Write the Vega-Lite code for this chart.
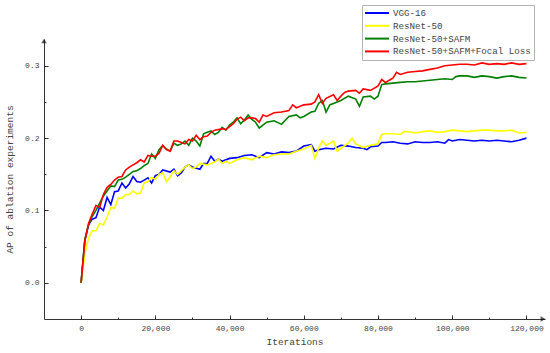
{
  "$schema": "https://vega.github.io/schema/vega-lite/v6.json",
  "width": 501,
  "height": 280,
  "autosize": {"type": "none"},
  "padding": {"left": 44, "top": 39, "right": 5, "bottom": 34},
  "background": "white",
  "config": {"view": {"stroke": null}, "font": "Liberation Mono"},
  "datasets": {
    "curves": [
      {"it":0,"ap":0,"model":"VGG-16"},{"it":1000,"ap":0.058,"model":"VGG-16"},{"it":2000,"ap":0.08,"model":"VGG-16"},{"it":3000,"ap":0.088,"model":"VGG-16"},{"it":4000,"ap":0.09,"model":"VGG-16"},{"it":5000,"ap":0.105,"model":"VGG-16"},{"it":6000,"ap":0.1,"model":"VGG-16"},{"it":7000,"ap":0.118,"model":"VGG-16"},{"it":8000,"ap":0.108,"model":"VGG-16"},{"it":9000,"ap":0.126,"model":"VGG-16"},{"it":10000,"ap":0.127,"model":"VGG-16"},{"it":11000,"ap":0.138,"model":"VGG-16"},{"it":12000,"ap":0.131,"model":"VGG-16"},{"it":13000,"ap":0.137,"model":"VGG-16"},{"it":14000,"ap":0.147,"model":"VGG-16"},{"it":15000,"ap":0.14,"model":"VGG-16"},{"it":16000,"ap":0.139,"model":"VGG-16"},{"it":17000,"ap":0.142,"model":"VGG-16"},{"it":18000,"ap":0.145,"model":"VGG-16"},{"it":19000,"ap":0.138,"model":"VGG-16"},{"it":20000,"ap":0.148,"model":"VGG-16"},{"it":21000,"ap":0.15,"model":"VGG-16"},{"it":22000,"ap":0.156,"model":"VGG-16"},{"it":24000,"ap":0.153,"model":"VGG-16"},{"it":25000,"ap":0.157,"model":"VGG-16"},{"it":26000,"ap":0.148,"model":"VGG-16"},{"it":27000,"ap":0.152,"model":"VGG-16"},{"it":28000,"ap":0.16,"model":"VGG-16"},{"it":29000,"ap":0.163,"model":"VGG-16"},{"it":30000,"ap":0.16,"model":"VGG-16"},{"it":32000,"ap":0.157,"model":"VGG-16"},{"it":33000,"ap":0.165,"model":"VGG-16"},{"it":34000,"ap":0.165,"model":"VGG-16"},{"it":35000,"ap":0.175,"model":"VGG-16"},{"it":36000,"ap":0.168,"model":"VGG-16"},{"it":37000,"ap":0.171,"model":"VGG-16"},{"it":38000,"ap":0.168,"model":"VGG-16"},{"it":40000,"ap":0.172,"model":"VGG-16"},{"it":42000,"ap":0.173,"model":"VGG-16"},{"it":44000,"ap":0.176,"model":"VGG-16"},{"it":46000,"ap":0.177,"model":"VGG-16"},{"it":48000,"ap":0.173,"model":"VGG-16"},{"it":50000,"ap":0.18,"model":"VGG-16"},{"it":52000,"ap":0.178,"model":"VGG-16"},{"it":54000,"ap":0.181,"model":"VGG-16"},{"it":56000,"ap":0.18,"model":"VGG-16"},{"it":58000,"ap":0.182,"model":"VGG-16"},{"it":60000,"ap":0.189,"model":"VGG-16"},{"it":62000,"ap":0.191,"model":"VGG-16"},{"it":63000,"ap":0.182,"model":"VGG-16"},{"it":64000,"ap":0.184,"model":"VGG-16"},{"it":66000,"ap":0.186,"model":"VGG-16"},{"it":68000,"ap":0.185,"model":"VGG-16"},{"it":70000,"ap":0.19,"model":"VGG-16"},{"it":72000,"ap":0.189,"model":"VGG-16"},{"it":74000,"ap":0.187,"model":"VGG-16"},{"it":76000,"ap":0.186,"model":"VGG-16"},{"it":77000,"ap":0.184,"model":"VGG-16"},{"it":78000,"ap":0.188,"model":"VGG-16"},{"it":80000,"ap":0.189,"model":"VGG-16"},{"it":81000,"ap":0.194,"model":"VGG-16"},{"it":82000,"ap":0.194,"model":"VGG-16"},{"it":84000,"ap":0.195,"model":"VGG-16"},{"it":86000,"ap":0.193,"model":"VGG-16"},{"it":88000,"ap":0.192,"model":"VGG-16"},{"it":90000,"ap":0.195,"model":"VGG-16"},{"it":92000,"ap":0.194,"model":"VGG-16"},{"it":94000,"ap":0.194,"model":"VGG-16"},{"it":96000,"ap":0.195,"model":"VGG-16"},{"it":98000,"ap":0.193,"model":"VGG-16"},{"it":99000,"ap":0.198,"model":"VGG-16"},{"it":100000,"ap":0.196,"model":"VGG-16"},{"it":102000,"ap":0.198,"model":"VGG-16"},{"it":104000,"ap":0.197,"model":"VGG-16"},{"it":106000,"ap":0.196,"model":"VGG-16"},{"it":108000,"ap":0.197,"model":"VGG-16"},{"it":110000,"ap":0.196,"model":"VGG-16"},{"it":112000,"ap":0.197,"model":"VGG-16"},{"it":114000,"ap":0.196,"model":"VGG-16"},{"it":116000,"ap":0.195,"model":"VGG-16"},{"it":118000,"ap":0.197,"model":"VGG-16"},{"it":120000,"ap":0.2,"model":"VGG-16"},

      {"it":0,"ap":0,"model":"ResNet-50"},{"it":1000,"ap":0.04,"model":"ResNet-50"},{"it":2000,"ap":0.062,"model":"ResNet-50"},{"it":3000,"ap":0.072,"model":"ResNet-50"},{"it":4000,"ap":0.072,"model":"ResNet-50"},{"it":5000,"ap":0.082,"model":"ResNet-50"},{"it":6000,"ap":0.08,"model":"ResNet-50"},{"it":7000,"ap":0.091,"model":"ResNet-50"},{"it":8000,"ap":0.104,"model":"ResNet-50"},{"it":9000,"ap":0.103,"model":"ResNet-50"},{"it":10000,"ap":0.117,"model":"ResNet-50"},{"it":11000,"ap":0.117,"model":"ResNet-50"},{"it":12000,"ap":0.122,"model":"ResNet-50"},{"it":13000,"ap":0.122,"model":"ResNet-50"},{"it":14000,"ap":0.127,"model":"ResNet-50"},{"it":15000,"ap":0.123,"model":"ResNet-50"},{"it":16000,"ap":0.124,"model":"ResNet-50"},{"it":17000,"ap":0.138,"model":"ResNet-50"},{"it":18000,"ap":0.14,"model":"ResNet-50"},{"it":19000,"ap":0.146,"model":"ResNet-50"},{"it":20000,"ap":0.143,"model":"ResNet-50"},{"it":21000,"ap":0.15,"model":"ResNet-50"},{"it":22000,"ap":0.152,"model":"ResNet-50"},{"it":23000,"ap":0.14,"model":"ResNet-50"},{"it":24000,"ap":0.146,"model":"ResNet-50"},{"it":25000,"ap":0.155,"model":"ResNet-50"},{"it":26000,"ap":0.15,"model":"ResNet-50"},{"it":27000,"ap":0.155,"model":"ResNet-50"},{"it":28000,"ap":0.16,"model":"ResNet-50"},{"it":29000,"ap":0.163,"model":"ResNet-50"},{"it":30000,"ap":0.158,"model":"ResNet-50"},{"it":31000,"ap":0.16,"model":"ResNet-50"},{"it":32000,"ap":0.165,"model":"ResNet-50"},{"it":34000,"ap":0.163,"model":"ResNet-50"},{"it":36000,"ap":0.167,"model":"ResNet-50"},{"it":37000,"ap":0.171,"model":"ResNet-50"},{"it":38000,"ap":0.165,"model":"ResNet-50"},{"it":39000,"ap":0.168,"model":"ResNet-50"},{"it":40000,"ap":0.165,"model":"ResNet-50"},{"it":42000,"ap":0.17,"model":"ResNet-50"},{"it":44000,"ap":0.173,"model":"ResNet-50"},{"it":46000,"ap":0.17,"model":"ResNet-50"},{"it":48000,"ap":0.175,"model":"ResNet-50"},{"it":50000,"ap":0.173,"model":"ResNet-50"},{"it":52000,"ap":0.177,"model":"ResNet-50"},{"it":54000,"ap":0.178,"model":"ResNet-50"},{"it":56000,"ap":0.178,"model":"ResNet-50"},{"it":58000,"ap":0.182,"model":"ResNet-50"},{"it":60000,"ap":0.185,"model":"ResNet-50"},{"it":62000,"ap":0.19,"model":"ResNet-50"},{"it":63000,"ap":0.172,"model":"ResNet-50"},{"it":64000,"ap":0.186,"model":"ResNet-50"},{"it":65000,"ap":0.196,"model":"ResNet-50"},{"it":66000,"ap":0.19,"model":"ResNet-50"},{"it":68000,"ap":0.196,"model":"ResNet-50"},{"it":69000,"ap":0.182,"model":"ResNet-50"},{"it":70000,"ap":0.186,"model":"ResNet-50"},{"it":72000,"ap":0.193,"model":"ResNet-50"},{"it":73000,"ap":0.2,"model":"ResNet-50"},{"it":74000,"ap":0.192,"model":"ResNet-50"},{"it":76000,"ap":0.187,"model":"ResNet-50"},{"it":78000,"ap":0.19,"model":"ResNet-50"},{"it":80000,"ap":0.192,"model":"ResNet-50"},{"it":81000,"ap":0.205,"model":"ResNet-50"},{"it":82000,"ap":0.206,"model":"ResNet-50"},{"it":84000,"ap":0.206,"model":"ResNet-50"},{"it":86000,"ap":0.205,"model":"ResNet-50"},{"it":87000,"ap":0.209,"model":"ResNet-50"},{"it":88000,"ap":0.209,"model":"ResNet-50"},{"it":90000,"ap":0.207,"model":"ResNet-50"},{"it":92000,"ap":0.209,"model":"ResNet-50"},{"it":94000,"ap":0.21,"model":"ResNet-50"},{"it":96000,"ap":0.208,"model":"ResNet-50"},{"it":98000,"ap":0.209,"model":"ResNet-50"},{"it":100000,"ap":0.211,"model":"ResNet-50"},{"it":102000,"ap":0.21,"model":"ResNet-50"},{"it":104000,"ap":0.209,"model":"ResNet-50"},{"it":106000,"ap":0.21,"model":"ResNet-50"},{"it":108000,"ap":0.211,"model":"ResNet-50"},{"it":110000,"ap":0.211,"model":"ResNet-50"},{"it":112000,"ap":0.21,"model":"ResNet-50"},{"it":114000,"ap":0.21,"model":"ResNet-50"},{"it":116000,"ap":0.211,"model":"ResNet-50"},{"it":118000,"ap":0.207,"model":"ResNet-50"},{"it":120000,"ap":0.208,"model":"ResNet-50"},

      {"it":0,"ap":0,"model":"ResNet-50+SAFM"},{"it":1000,"ap":0.06,"model":"ResNet-50+SAFM"},{"it":2000,"ap":0.08,"model":"ResNet-50+SAFM"},{"it":3000,"ap":0.092,"model":"ResNet-50+SAFM"},{"it":4000,"ap":0.1,"model":"ResNet-50+SAFM"},{"it":5000,"ap":0.11,"model":"ResNet-50+SAFM"},{"it":6000,"ap":0.12,"model":"ResNet-50+SAFM"},{"it":7000,"ap":0.127,"model":"ResNet-50+SAFM"},{"it":8000,"ap":0.134,"model":"ResNet-50+SAFM"},{"it":9000,"ap":0.133,"model":"ResNet-50+SAFM"},{"it":10000,"ap":0.142,"model":"ResNet-50+SAFM"},{"it":11000,"ap":0.143,"model":"ResNet-50+SAFM"},{"it":12000,"ap":0.146,"model":"ResNet-50+SAFM"},{"it":13000,"ap":0.15,"model":"ResNet-50+SAFM"},{"it":14000,"ap":0.154,"model":"ResNet-50+SAFM"},{"it":15000,"ap":0.155,"model":"ResNet-50+SAFM"},{"it":16000,"ap":0.158,"model":"ResNet-50+SAFM"},{"it":17000,"ap":0.162,"model":"ResNet-50+SAFM"},{"it":18000,"ap":0.165,"model":"ResNet-50+SAFM"},{"it":19000,"ap":0.178,"model":"ResNet-50+SAFM"},{"it":20000,"ap":0.172,"model":"ResNet-50+SAFM"},{"it":21000,"ap":0.184,"model":"ResNet-50+SAFM"},{"it":22000,"ap":0.19,"model":"ResNet-50+SAFM"},{"it":23000,"ap":0.185,"model":"ResNet-50+SAFM"},{"it":24000,"ap":0.182,"model":"ResNet-50+SAFM"},{"it":25000,"ap":0.193,"model":"ResNet-50+SAFM"},{"it":26000,"ap":0.19,"model":"ResNet-50+SAFM"},{"it":27000,"ap":0.192,"model":"ResNet-50+SAFM"},{"it":28000,"ap":0.196,"model":"ResNet-50+SAFM"},{"it":29000,"ap":0.19,"model":"ResNet-50+SAFM"},{"it":30000,"ap":0.2,"model":"ResNet-50+SAFM"},{"it":31000,"ap":0.196,"model":"ResNet-50+SAFM"},{"it":32000,"ap":0.189,"model":"ResNet-50+SAFM"},{"it":33000,"ap":0.206,"model":"ResNet-50+SAFM"},{"it":34000,"ap":0.208,"model":"ResNet-50+SAFM"},{"it":35000,"ap":0.21,"model":"ResNet-50+SAFM"},{"it":36000,"ap":0.205,"model":"ResNet-50+SAFM"},{"it":37000,"ap":0.208,"model":"ResNet-50+SAFM"},{"it":38000,"ap":0.215,"model":"ResNet-50+SAFM"},{"it":39000,"ap":0.211,"model":"ResNet-50+SAFM"},{"it":40000,"ap":0.218,"model":"ResNet-50+SAFM"},{"it":41000,"ap":0.222,"model":"ResNet-50+SAFM"},{"it":42000,"ap":0.228,"model":"ResNet-50+SAFM"},{"it":43000,"ap":0.22,"model":"ResNet-50+SAFM"},{"it":44000,"ap":0.225,"model":"ResNet-50+SAFM"},{"it":45000,"ap":0.232,"model":"ResNet-50+SAFM"},{"it":46000,"ap":0.226,"model":"ResNet-50+SAFM"},{"it":47000,"ap":0.222,"model":"ResNet-50+SAFM"},{"it":48000,"ap":0.214,"model":"ResNet-50+SAFM"},{"it":50000,"ap":0.222,"model":"ResNet-50+SAFM"},{"it":52000,"ap":0.224,"model":"ResNet-50+SAFM"},{"it":54000,"ap":0.219,"model":"ResNet-50+SAFM"},{"it":56000,"ap":0.23,"model":"ResNet-50+SAFM"},{"it":58000,"ap":0.232,"model":"ResNet-50+SAFM"},{"it":59000,"ap":0.228,"model":"ResNet-50+SAFM"},{"it":60000,"ap":0.23,"model":"ResNet-50+SAFM"},{"it":62000,"ap":0.236,"model":"ResNet-50+SAFM"},{"it":63000,"ap":0.237,"model":"ResNet-50+SAFM"},{"it":64000,"ap":0.248,"model":"ResNet-50+SAFM"},{"it":65000,"ap":0.252,"model":"ResNet-50+SAFM"},{"it":66000,"ap":0.236,"model":"ResNet-50+SAFM"},{"it":67000,"ap":0.246,"model":"ResNet-50+SAFM"},{"it":68000,"ap":0.248,"model":"ResNet-50+SAFM"},{"it":70000,"ap":0.252,"model":"ResNet-50+SAFM"},{"it":72000,"ap":0.258,"model":"ResNet-50+SAFM"},{"it":74000,"ap":0.254,"model":"ResNet-50+SAFM"},{"it":75000,"ap":0.244,"model":"ResNet-50+SAFM"},{"it":76000,"ap":0.257,"model":"ResNet-50+SAFM"},{"it":78000,"ap":0.258,"model":"ResNet-50+SAFM"},{"it":79000,"ap":0.254,"model":"ResNet-50+SAFM"},{"it":80000,"ap":0.258,"model":"ResNet-50+SAFM"},{"it":81000,"ap":0.274,"model":"ResNet-50+SAFM"},{"it":82000,"ap":0.275,"model":"ResNet-50+SAFM"},{"it":84000,"ap":0.276,"model":"ResNet-50+SAFM"},{"it":86000,"ap":0.277,"model":"ResNet-50+SAFM"},{"it":88000,"ap":0.278,"model":"ResNet-50+SAFM"},{"it":90000,"ap":0.278,"model":"ResNet-50+SAFM"},{"it":92000,"ap":0.279,"model":"ResNet-50+SAFM"},{"it":94000,"ap":0.28,"model":"ResNet-50+SAFM"},{"it":96000,"ap":0.281,"model":"ResNet-50+SAFM"},{"it":98000,"ap":0.282,"model":"ResNet-50+SAFM"},{"it":100000,"ap":0.281,"model":"ResNet-50+SAFM"},{"it":101000,"ap":0.285,"model":"ResNet-50+SAFM"},{"it":102000,"ap":0.286,"model":"ResNet-50+SAFM"},{"it":104000,"ap":0.286,"model":"ResNet-50+SAFM"},{"it":106000,"ap":0.284,"model":"ResNet-50+SAFM"},{"it":108000,"ap":0.286,"model":"ResNet-50+SAFM"},{"it":110000,"ap":0.285,"model":"ResNet-50+SAFM"},{"it":112000,"ap":0.283,"model":"ResNet-50+SAFM"},{"it":114000,"ap":0.285,"model":"ResNet-50+SAFM"},{"it":116000,"ap":0.286,"model":"ResNet-50+SAFM"},{"it":118000,"ap":0.284,"model":"ResNet-50+SAFM"},{"it":120000,"ap":0.283,"model":"ResNet-50+SAFM"},

      {"it":0,"ap":0,"model":"ResNet-50+SAFM+Focal Loss"},{"it":1000,"ap":0.058,"model":"ResNet-50+SAFM+Focal Loss"},{"it":2000,"ap":0.082,"model":"ResNet-50+SAFM+Focal Loss"},{"it":3000,"ap":0.095,"model":"ResNet-50+SAFM+Focal Loss"},{"it":4000,"ap":0.107,"model":"ResNet-50+SAFM+Focal Loss"},{"it":5000,"ap":0.104,"model":"ResNet-50+SAFM+Focal Loss"},{"it":6000,"ap":0.122,"model":"ResNet-50+SAFM+Focal Loss"},{"it":7000,"ap":0.132,"model":"ResNet-50+SAFM+Focal Loss"},{"it":8000,"ap":0.136,"model":"ResNet-50+SAFM+Focal Loss"},{"it":9000,"ap":0.142,"model":"ResNet-50+SAFM+Focal Loss"},{"it":10000,"ap":0.146,"model":"ResNet-50+SAFM+Focal Loss"},{"it":11000,"ap":0.147,"model":"ResNet-50+SAFM+Focal Loss"},{"it":12000,"ap":0.156,"model":"ResNet-50+SAFM+Focal Loss"},{"it":13000,"ap":0.16,"model":"ResNet-50+SAFM+Focal Loss"},{"it":14000,"ap":0.163,"model":"ResNet-50+SAFM+Focal Loss"},{"it":15000,"ap":0.166,"model":"ResNet-50+SAFM+Focal Loss"},{"it":16000,"ap":0.17,"model":"ResNet-50+SAFM+Focal Loss"},{"it":17000,"ap":0.167,"model":"ResNet-50+SAFM+Focal Loss"},{"it":18000,"ap":0.176,"model":"ResNet-50+SAFM+Focal Loss"},{"it":19000,"ap":0.175,"model":"ResNet-50+SAFM+Focal Loss"},{"it":20000,"ap":0.175,"model":"ResNet-50+SAFM+Focal Loss"},{"it":21000,"ap":0.179,"model":"ResNet-50+SAFM+Focal Loss"},{"it":22000,"ap":0.19,"model":"ResNet-50+SAFM+Focal Loss"},{"it":23000,"ap":0.184,"model":"ResNet-50+SAFM+Focal Loss"},{"it":24000,"ap":0.182,"model":"ResNet-50+SAFM+Focal Loss"},{"it":25000,"ap":0.196,"model":"ResNet-50+SAFM+Focal Loss"},{"it":26000,"ap":0.196,"model":"ResNet-50+SAFM+Focal Loss"},{"it":27000,"ap":0.194,"model":"ResNet-50+SAFM+Focal Loss"},{"it":28000,"ap":0.192,"model":"ResNet-50+SAFM+Focal Loss"},{"it":29000,"ap":0.198,"model":"ResNet-50+SAFM+Focal Loss"},{"it":30000,"ap":0.196,"model":"ResNet-50+SAFM+Focal Loss"},{"it":31000,"ap":0.204,"model":"ResNet-50+SAFM+Focal Loss"},{"it":32000,"ap":0.198,"model":"ResNet-50+SAFM+Focal Loss"},{"it":33000,"ap":0.202,"model":"ResNet-50+SAFM+Focal Loss"},{"it":34000,"ap":0.203,"model":"ResNet-50+SAFM+Focal Loss"},{"it":35000,"ap":0.208,"model":"ResNet-50+SAFM+Focal Loss"},{"it":36000,"ap":0.211,"model":"ResNet-50+SAFM+Focal Loss"},{"it":37000,"ap":0.212,"model":"ResNet-50+SAFM+Focal Loss"},{"it":38000,"ap":0.213,"model":"ResNet-50+SAFM+Focal Loss"},{"it":39000,"ap":0.212,"model":"ResNet-50+SAFM+Focal Loss"},{"it":40000,"ap":0.216,"model":"ResNet-50+SAFM+Focal Loss"},{"it":41000,"ap":0.22,"model":"ResNet-50+SAFM+Focal Loss"},{"it":42000,"ap":0.226,"model":"ResNet-50+SAFM+Focal Loss"},{"it":43000,"ap":0.229,"model":"ResNet-50+SAFM+Focal Loss"},{"it":44000,"ap":0.224,"model":"ResNet-50+SAFM+Focal Loss"},{"it":45000,"ap":0.228,"model":"ResNet-50+SAFM+Focal Loss"},{"it":46000,"ap":0.228,"model":"ResNet-50+SAFM+Focal Loss"},{"it":47000,"ap":0.227,"model":"ResNet-50+SAFM+Focal Loss"},{"it":48000,"ap":0.222,"model":"ResNet-50+SAFM+Focal Loss"},{"it":49000,"ap":0.232,"model":"ResNet-50+SAFM+Focal Loss"},{"it":50000,"ap":0.23,"model":"ResNet-50+SAFM+Focal Loss"},{"it":52000,"ap":0.235,"model":"ResNet-50+SAFM+Focal Loss"},{"it":54000,"ap":0.236,"model":"ResNet-50+SAFM+Focal Loss"},{"it":56000,"ap":0.238,"model":"ResNet-50+SAFM+Focal Loss"},{"it":57000,"ap":0.246,"model":"ResNet-50+SAFM+Focal Loss"},{"it":58000,"ap":0.242,"model":"ResNet-50+SAFM+Focal Loss"},{"it":60000,"ap":0.246,"model":"ResNet-50+SAFM+Focal Loss"},{"it":62000,"ap":0.247,"model":"ResNet-50+SAFM+Focal Loss"},{"it":63000,"ap":0.25,"model":"ResNet-50+SAFM+Focal Loss"},{"it":64000,"ap":0.26,"model":"ResNet-50+SAFM+Focal Loss"},{"it":65000,"ap":0.248,"model":"ResNet-50+SAFM+Focal Loss"},{"it":66000,"ap":0.255,"model":"ResNet-50+SAFM+Focal Loss"},{"it":68000,"ap":0.26,"model":"ResNet-50+SAFM+Focal Loss"},{"it":69000,"ap":0.252,"model":"ResNet-50+SAFM+Focal Loss"},{"it":70000,"ap":0.258,"model":"ResNet-50+SAFM+Focal Loss"},{"it":71000,"ap":0.263,"model":"ResNet-50+SAFM+Focal Loss"},{"it":72000,"ap":0.265,"model":"ResNet-50+SAFM+Focal Loss"},{"it":74000,"ap":0.266,"model":"ResNet-50+SAFM+Focal Loss"},{"it":75000,"ap":0.262,"model":"ResNet-50+SAFM+Focal Loss"},{"it":76000,"ap":0.268,"model":"ResNet-50+SAFM+Focal Loss"},{"it":78000,"ap":0.266,"model":"ResNet-50+SAFM+Focal Loss"},{"it":80000,"ap":0.272,"model":"ResNet-50+SAFM+Focal Loss"},{"it":81000,"ap":0.281,"model":"ResNet-50+SAFM+Focal Loss"},{"it":82000,"ap":0.277,"model":"ResNet-50+SAFM+Focal Loss"},{"it":84000,"ap":0.283,"model":"ResNet-50+SAFM+Focal Loss"},{"it":85000,"ap":0.291,"model":"ResNet-50+SAFM+Focal Loss"},{"it":86000,"ap":0.288,"model":"ResNet-50+SAFM+Focal Loss"},{"it":88000,"ap":0.291,"model":"ResNet-50+SAFM+Focal Loss"},{"it":90000,"ap":0.292,"model":"ResNet-50+SAFM+Focal Loss"},{"it":92000,"ap":0.293,"model":"ResNet-50+SAFM+Focal Loss"},{"it":94000,"ap":0.295,"model":"ResNet-50+SAFM+Focal Loss"},{"it":96000,"ap":0.297,"model":"ResNet-50+SAFM+Focal Loss"},{"it":98000,"ap":0.3,"model":"ResNet-50+SAFM+Focal Loss"},{"it":100000,"ap":0.301,"model":"ResNet-50+SAFM+Focal Loss"},{"it":102000,"ap":0.302,"model":"ResNet-50+SAFM+Focal Loss"},{"it":104000,"ap":0.302,"model":"ResNet-50+SAFM+Focal Loss"},{"it":106000,"ap":0.301,"model":"ResNet-50+SAFM+Focal Loss"},{"it":108000,"ap":0.304,"model":"ResNet-50+SAFM+Focal Loss"},{"it":110000,"ap":0.302,"model":"ResNet-50+SAFM+Focal Loss"},{"it":112000,"ap":0.303,"model":"ResNet-50+SAFM+Focal Loss"},{"it":114000,"ap":0.302,"model":"ResNet-50+SAFM+Focal Loss"},{"it":116000,"ap":0.304,"model":"ResNet-50+SAFM+Focal Loss"},{"it":118000,"ap":0.302,"model":"ResNet-50+SAFM+Focal Loss"},{"it":120000,"ap":0.303,"model":"ResNet-50+SAFM+Focal Loss"}
    ],
    "yEnd": [{"it": -10000, "ap": 0.337}],
    "xEnd": [{"it": 125000, "ap": -0.05}]
  },
  "layer": [
    {
      "data": {"name": "curves"},
      "mark": {"type": "line", "strokeWidth": 1.6},
      "encoding": {
        "x": {
          "field": "it", "type": "quantitative",
          "scale": {"domain": [-10000, 125000], "nice": false, "zero": false},
          "axis": {
            "title": "Iterations",
            "values": [0,10000,20000,30000,40000,50000,60000,70000,80000,90000,100000,110000,120000],
            "labelExpr": "datum.value % 20000 === 0 ? format(datum.value, ',') : ''",
            "grid": false,
            "domainColor": "#333333", "tickColor": "#333333",
            "tickSize": {"condition": {"test": "datum.value % 20000 === 0", "value": -4}, "value": -2},
            "labelFontSize": 8, "labelColor": "#444444", "labelPadding": 9,
            "labelFlush": false, "labelOverlap": false,
            "titleFontSize": 9.5, "titleFontWeight": "normal", "titleColor": "#444444", "titlePadding": 2
          }
        },
        "y": {
          "field": "ap", "type": "quantitative",
          "scale": {"domain": [-0.05, 0.337], "nice": false, "zero": false},
          "axis": {
            "title": "AP of ablation experiments",
            "values": [0, 0.05, 0.1, 0.15, 0.2, 0.25, 0.3],
            "labelExpr": "abs(round(datum.value * 20)) % 2 === 0 ? format(datum.value, '.1f') : ''",
            "grid": false,
            "domainColor": "#333333", "tickColor": "#333333",
            "tickSize": {"condition": {"test": "abs(round(datum.value * 20)) % 2 === 0", "value": -4}, "value": -2},
            "labelFontSize": 8, "labelColor": "#444444", "labelPadding": 9,
            "labelFlush": false, "labelOverlap": false,
            "titleFontSize": 9.5, "titleFontWeight": "normal", "titleColor": "#444444", "titlePadding": 10
          }
        },
        "color": {
          "field": "model", "type": "nominal",
          "scale": {
            "domain": ["VGG-16", "ResNet-50", "ResNet-50+SAFM", "ResNet-50+SAFM+Focal Loss"],
            "range": ["#0000ff", "#ffff00", "#008000", "#ff0000"]
          },
          "legend": {
            "orient": "none", "legendX": 318, "legendY": -34,
            "title": null,
            "strokeColor": "#b4b4b4", "fillColor": "white", "padding": 3,
            "symbolType": "M-3,0H3", "symbolSize": 64, "symbolStrokeWidth": 2,
            "symbolOffset": 7, "labelOffset": 11,
            "labelFontSize": 9.2, "labelColor": "#444444", "rowPadding": 1.8
          }
        }
      }
    },
    {
      "data": {"name": "yEnd"},
      "mark": {"type": "point", "shape": "triangle-up", "filled": true, "color": "#111111", "size": 30, "yOffset": 2},
      "encoding": {
        "x": {"field": "it", "type": "quantitative"},
        "y": {"field": "ap", "type": "quantitative"}
      }
    },
    {
      "data": {"name": "xEnd"},
      "mark": {"type": "point", "shape": "triangle-right", "filled": true, "color": "#111111", "size": 30, "xOffset": -2},
      "encoding": {
        "x": {"field": "it", "type": "quantitative"},
        "y": {"field": "ap", "type": "quantitative"}
      }
    }
  ]
}
